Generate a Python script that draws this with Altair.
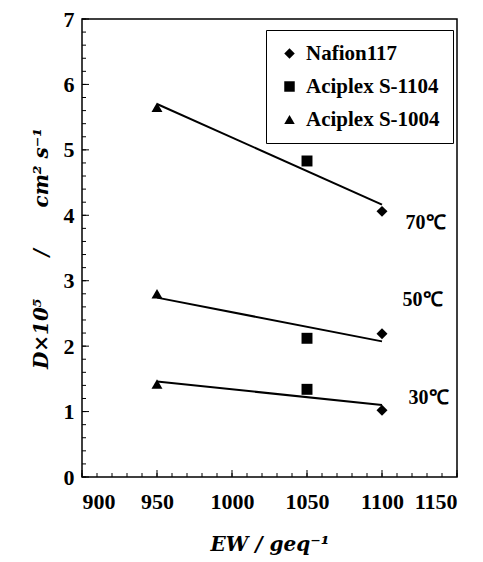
import altair as alt
import pandas as pd

membranes = ["Nafion117", "Aciplex S-1104", "Aciplex S-1004"]
ew_values = [1100, 1050, 950]
temps = ["30℃", "50℃", "70℃"]
d_30 = [1.02, 1.34, 1.42]
d_50 = [2.19, 2.12, 2.80]
d_70 = [4.06, 4.83, 5.65]
label_x = [1131, 1127, 1129]
label_y = [1.2, 2.7, 3.88]
x_ticks = [900, 950, 1000, 1050, 1100, 1150]
y_ticks = [0, 1, 2, 3, 4, 5, 6, 7]

rows = []
for t, vals in zip(temps, [d_30, d_50, d_70]):
    for m, e, v in zip(membranes, ew_values, vals):
        rows.append({"membrane": m, "ew": e, "d": v, "temp": t})
df = pd.DataFrame(rows)
labels_df = pd.DataFrame({"temp": temps, "x": label_x, "y": label_y})

FONT = "Liberation Serif"
TFONT = "DejaVu Serif"
NB = "\u00a0"
W, H = 375, 458

xs = alt.Scale(domain=[900, 1150], nice=False, zero=False)
ys = alt.Scale(domain=[0, 7], nice=False, zero=False)

x_axis = alt.Axis(values=x_ticks, format="d", ticks=False, domain=False, grid=False,
                  labelFont=FONT, labelFontSize=22, labelFontWeight="bold",
                  labelColor="black", labelPadding=14,
                  title=f"EW{NB}/{NB}geq⁻¹", titleFont=TFONT, titleFontSize=20,
                  titleFontStyle="italic", titleFontWeight="bold",
                  titleColor="black", titlePadding=22)
y_axis = alt.Axis(values=y_ticks, format="d", ticks=False, domain=False, grid=False,
                  labelFont=FONT, labelFontSize=22, labelFontWeight="bold",
                  labelColor="black", labelPadding=8,
                  title=f"D×10⁵{NB*6}/{NB*6}cm²{NB}s⁻¹", titleFont=TFONT, titleFontSize=20,
                  titleFontStyle="italic", titleFontWeight="bold",
                  titleColor="black", titlePadding=12)

base = alt.Chart(df)

points = base.mark_point(filled=True, color="black", opacity=1, size=120).encode(
    x=alt.X("ew:Q", scale=xs, axis=x_axis),
    y=alt.Y("d:Q", scale=ys, axis=y_axis),
    shape=alt.Shape("membrane:N",
                    scale=alt.Scale(domain=membranes,
                                    range=["diamond", "square", "triangle-up"]),
                    legend=alt.Legend(orient="none", legendX=184, legendY=11,
                                      title=None, strokeColor="black",
                                      padding=13, rowPadding=11,
                                      labelFont=FONT, labelFontSize=21,
                                      labelFontWeight="bold", labelColor="black",
                                      symbolSize=110, symbolFillColor="black",
                                      symbolStrokeColor="black", labelOffset=6,
                                      fillColor="white")),
)

fits = base.transform_regression("ew", "d", groupby=["temp"], extent=[950, 1100]).mark_line(
    color="black", strokeWidth=2
).encode(
    x=alt.X("ew:Q", scale=xs),
    y=alt.Y("d:Q", scale=ys),
    detail="temp:N",
)

temp_text = alt.Chart(labels_df).mark_text(
    font=FONT, fontSize=20, fontWeight="bold", color="black"
).encode(
    x=alt.X("x:Q", scale=xs),
    y=alt.Y("y:Q", scale=ys),
    text="temp:N",
)

# inward ticks
y_minor = alt.Chart(alt.sequence(0, 7.001, 0.2, as_="v")).mark_rule(color="black", strokeWidth=1).encode(
    y=alt.Y("v:Q", scale=ys), x=alt.value(0), x2=alt.value(4))
y_major = alt.Chart(pd.DataFrame({"v": y_ticks})).mark_rule(color="black", strokeWidth=1).encode(
    y=alt.Y("v:Q", scale=ys), x=alt.value(0), x2=alt.value(7))
x_minor = alt.Chart(alt.sequence(900, 1150.1, 10, as_="v")).mark_rule(color="black", strokeWidth=1).encode(
    x=alt.X("v:Q", scale=xs), y=alt.value(H), y2=alt.value(H - 4))
x_major = alt.Chart(pd.DataFrame({"v": x_ticks})).mark_rule(color="black", strokeWidth=1).encode(
    x=alt.X("v:Q", scale=xs), y=alt.value(H), y2=alt.value(H - 7))

chart = alt.layer(y_minor, y_major, x_minor, x_major, fits, points, temp_text).properties(
    width=W, height=H,
    autosize=alt.AutoSizeParams(type="none"),
    padding={"left": 74, "top": 11, "right": 10, "bottom": 80},
    background="white",
).configure_view(stroke="black", strokeWidth=1.5)

chart.save("out.html", embed_options={"renderer": "svg", "actions": False})
